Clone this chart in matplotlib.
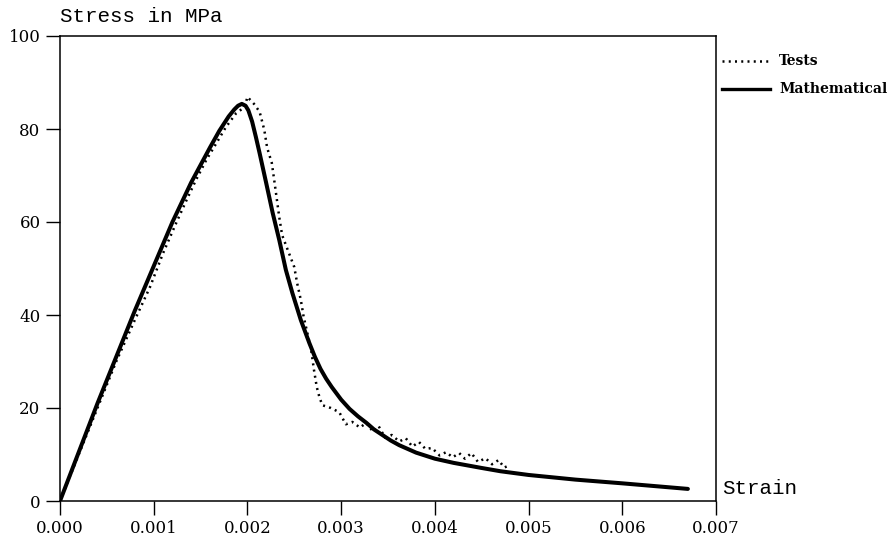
import matplotlib
matplotlib.use("Agg")
import matplotlib.pyplot as plt

# mathematical model curve (strain, stress in MPa)
model_strain = [0.0, 0.0002, 0.0004, 0.0006, 0.0008, 0.0010, 0.0012, 0.0014,
                0.0016, 0.0017, 0.0018, 0.00186, 0.0019, 0.00194, 0.00198,
                0.00201, 0.00205, 0.00209, 0.00213, 0.0022, 0.00227, 0.00234,
                0.00241, 0.00248, 0.00257, 0.00266, 0.00272, 0.00278, 0.00284,
                0.0029, 0.003, 0.00309, 0.00318, 0.00327, 0.00335, 0.00344,
                0.00353, 0.00362, 0.0038, 0.0040, 0.0042, 0.0045, 0.0047,
                0.0050, 0.0055, 0.0060, 0.0067]
model_stress = [0.0, 10.5, 21.0, 31.0, 41.0, 50.5, 60.0, 68.5,
                76.0, 79.6, 82.7, 84.2, 85.0, 85.4, 85.0,
                84.0, 81.6, 78.3, 74.8, 68.4, 61.9, 56.1,
                49.7, 44.7, 38.9, 34.0, 31.0, 28.4, 26.3,
                24.5, 21.8, 19.8, 18.2, 16.8, 15.4, 14.2,
                13.0, 12.0, 10.4, 9.1, 8.2, 7.1, 6.4,
                5.6, 4.6, 3.8, 2.6]

# test measurements
test_strain = [0.0, 0.0002, 0.0004, 0.0006, 0.0008, 0.00096, 0.0011, 0.00124,
               0.00135, 0.00145, 0.00156, 0.00167, 0.00177, 0.00188, 0.00197,
               0.0020, 0.00207, 0.00213, 0.00218, 0.00221, 0.00226, 0.00229,
               0.00234, 0.00237, 0.00243, 0.0025, 0.00253, 0.00257, 0.0026,
               0.00264, 0.00268, 0.00271, 0.00274, 0.00277, 0.0028, 0.00289,
               0.00298, 0.00305, 0.00312, 0.0032, 0.00327, 0.00334, 0.0034,
               0.00347, 0.00354, 0.00362, 0.00369, 0.00376, 0.00383, 0.0039,
               0.00397, 0.00405, 0.00412, 0.00419, 0.00426, 0.00432, 0.00439,
               0.00446, 0.00454, 0.00461, 0.00468, 0.00474, 0.0048]
test_stress = [0.0, 10.0, 20.0, 30.0, 39.0, 46.0, 53.3, 59.8,
               64.7, 69.0, 73.3, 77.0, 80.4, 83.4, 84.7,
               86.9, 85.4, 83.7, 79.8, 76.0, 72.7, 68.4,
               61.0, 57.2, 54.0, 50.3, 46.9, 43.2, 39.6,
               36.1, 32.5, 28.2, 24.5, 22.2, 20.6, 20.0,
               19.1, 16.5, 17.0, 15.8, 16.8, 14.9, 16.1,
               13.6, 14.2, 12.8, 13.5, 11.7, 12.7, 11.2,
               11.4, 9.8, 10.5, 9.4, 10.3, 9.1, 10.3,
               8.4, 9.2, 7.9, 8.8, 7.2, 7.7]

x_ticks = [0.000, 0.001, 0.002, 0.003, 0.004, 0.005, 0.006, 0.007]
y_ticks = [0, 20, 40, 60, 80, 100]

W, H = 891, 540
DOTS = (0, (0.8, 1.7))


def main() -> None:
    plt.rcParams.update({"font.family": "DejaVu Serif", "font.size": 12})
    fig = plt.figure(figsize=(W / 100, H / 100), dpi=100)
    ax = fig.add_axes([60 / W, 1 - 501 / H, (716 - 60) / W, (501 - 36) / H])

    ax.plot(test_strain, test_stress, color="black", lw=1.8, linestyle=DOTS)
    ax.plot(model_strain, model_stress, color="black", lw=2.9,
            solid_capstyle="round", solid_joinstyle="round")

    ax.set_xlim(0, 0.007)
    ax.set_ylim(0, 100)
    ax.set_xticks(x_ticks)
    ax.set_xticklabels([f"{v:.3f}" for v in x_ticks])
    ax.set_yticks(y_ticks)
    ax.tick_params(direction="out", length=10, width=1.0, pad=4, labelsize=12)
    for s in ax.spines.values():
        s.set_linewidth(1.1)

    fig.text(60 / W, 1 - 17 / H, "Stress in MPa", family="Liberation Mono",
             fontsize=15, va="center", ha="left")
    fig.text(722 / W, 1 - 488 / H, "Strain", family="Liberation Mono",
             fontsize=15, va="center", ha="left")

    # legend drawn by hand at the right of the frame
    fig.add_artist(plt.Line2D([722 / W, 770 / W], [1 - 61 / H] * 2,
                              color="black", lw=1.8, linestyle=DOTS))
    fig.add_artist(plt.Line2D([722 / W, 770 / W], [1 - 89 / H] * 2,
                              color="black", lw=2.4))
    fig.text(779 / W, 1 - 61 / H, "Tests", fontsize=10, fontweight="bold",
             va="center", ha="left")
    fig.text(779 / W, 1 - 89 / H, "Mathematical", fontsize=10,
             fontweight="bold", va="center", ha="left")

    fig.savefig("out.png", dpi=100)


if __name__ == "__main__":
    main()
